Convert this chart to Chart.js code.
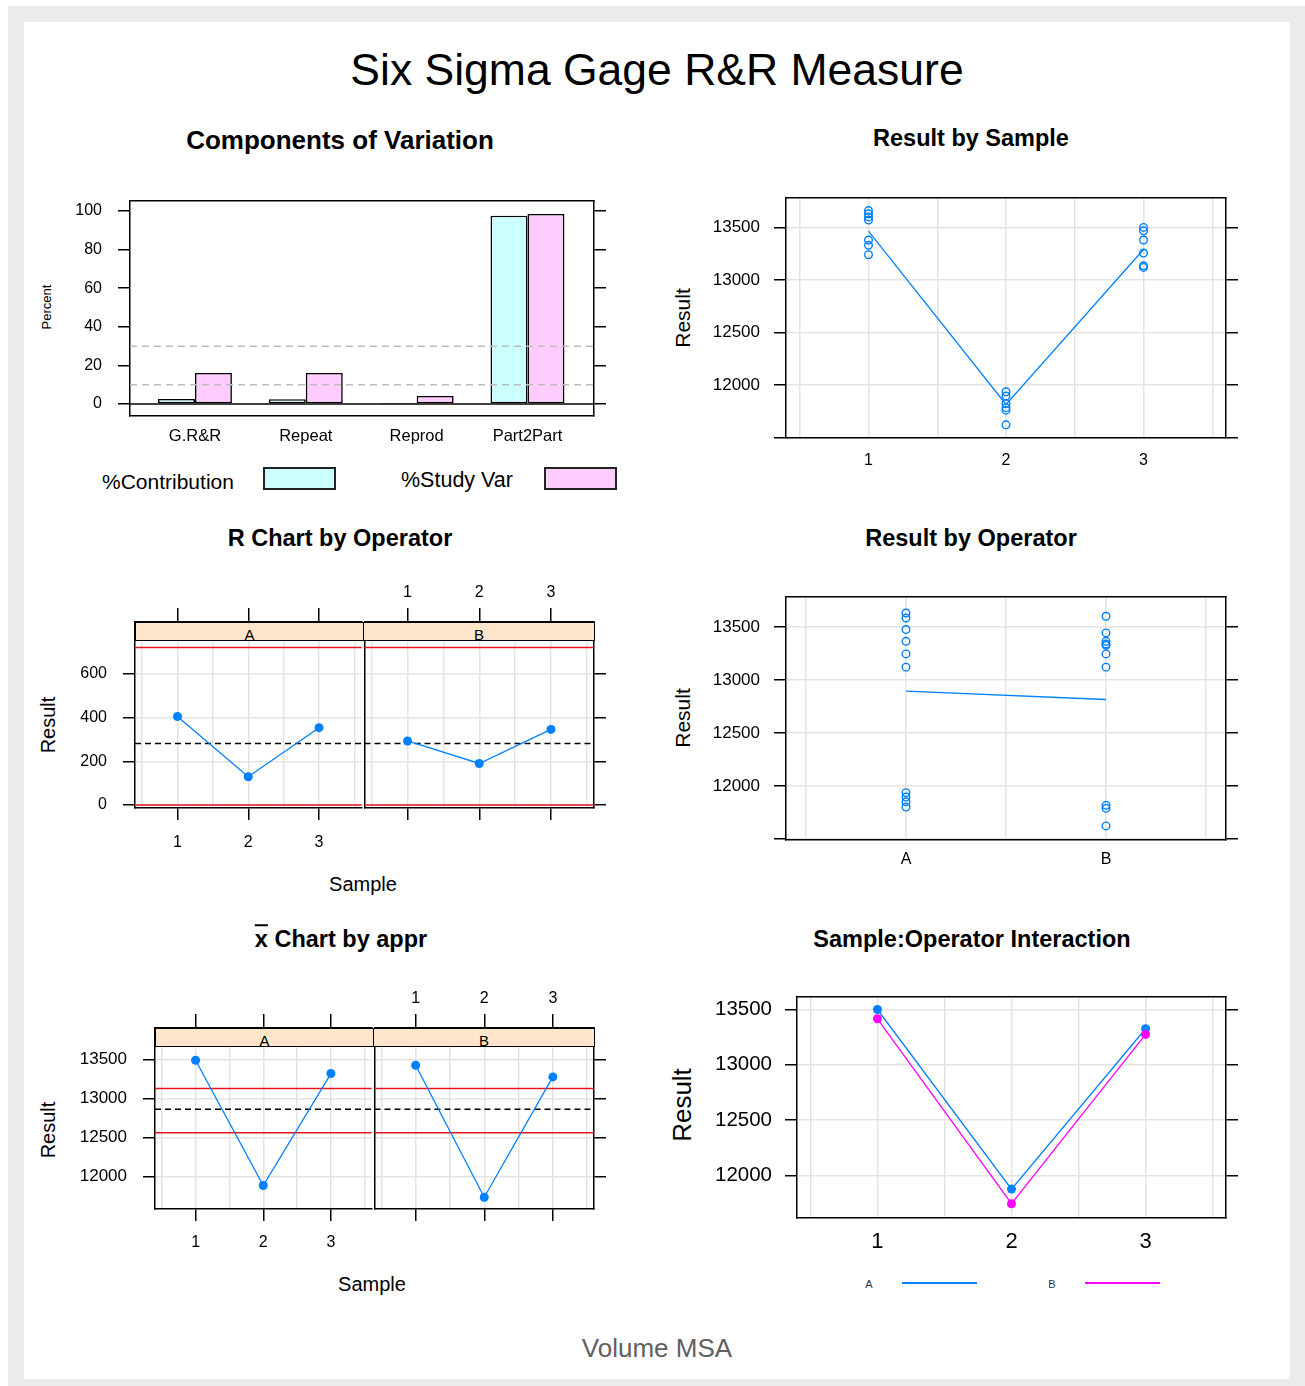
<!DOCTYPE html>
<html lang="en">
<head>
<meta charset="UTF-8">
<title>Six Sigma Gage R&amp;R Measure</title>
<script src="https://cdn.jsdelivr.net/npm/chart.js@4"></script>
<style>
    body { margin: 0; background: #fff; font-family: "Liberation Sans", Arial, sans-serif; }
    .page { position: relative; width: 1305px; height: 1386px; overflow: hidden; }
    .frame { position: absolute; left: 8px; top: 6px; width: 1297px; height: 1380px; background: #ebebeb; }
    .sheet { position: absolute; left: 24px; top: 22px; width: 1266px; height: 1357px; background: #fff; }
    canvas { position: absolute; }
    .t { position: absolute; transform: translate(-50%, -50%); white-space: nowrap; line-height: 1; color: #000; }
    .l { position: absolute; transform: translate(0, -50%); white-space: nowrap; line-height: 1; color: #000; }
    .v { transform: translate(-50%, -50%) rotate(-90deg); }
    .h { font-weight: bold; font-size: 23.5px; }
    .strip { position: absolute; box-sizing: border-box; height: 19px; background: #ffe5cc; border: 1.5px solid #000;
             overflow: hidden; text-align: center; font-size: 15px; line-height: 24px; }
    .key { position: absolute; box-sizing: border-box; width: 73px; height: 23px; border: 2px solid #222; }
    .lk { position: absolute; height: 2px; width: 75px; }
</style>
</head>
<body>
<div class="page">
    <div class="frame"></div>
    <div class="sheet"></div>

    <!-- titles -->
    <div class="t" style="left:657px; top:70px; font-size:44.5px;">Six Sigma Gage R&amp;R Measure</div>
    <div class="t h" style="left:340px; top:140px; font-size:26px;">Components of Variation</div>
    <div class="t h" style="left:971px; top:139px;">Result by Sample</div>
    <div class="t h" style="left:340px; top:539px;">R Chart by Operator</div>
    <div class="t h" style="left:971px; top:539px;">Result by Operator</div>
    <div class="t h" style="left:341px; top:940px;"><span style="text-decoration:overline">x</span> Chart by appr</div>
    <div class="t h" style="left:972px; top:940px;">Sample:Operator Interaction</div>
    <div class="t" style="left:657px; top:1348px; font-size:26px; color:#606060;">Volume MSA</div>

    <!-- axis titles -->
    <div class="t v" style="left:46px; top:307px; font-size:13px;">Percent</div>
    <div class="t v" style="left:682px; top:318px; font-size:21px;">Result</div>
    <div class="t v" style="left:48px; top:725px; font-size:20px;">Result</div>
    <div class="t" style="left:363px; top:884px; font-size:20px;">Sample</div>
    <div class="t v" style="left:682px; top:718px; font-size:21px;">Result</div>
    <div class="t v" style="left:48px; top:1130px; font-size:20px;">Result</div>
    <div class="t" style="left:372px; top:1284px; font-size:20px;">Sample</div>
    <div class="t v" style="left:682px; top:1105px; font-size:26px;">Result</div>

    <!-- charts -->
    <canvas id="cv" width="560" height="260" style="left:60px; top:190px;"></canvas>
    <canvas id="bySample" width="545" height="290" style="left:700px; top:185px;"></canvas>
    <canvas id="rA" width="306" height="290" style="left:60px; top:575px;"></canvas>
    <canvas id="rB" width="260" height="290" style="left:360px; top:575px;"></canvas>
    <canvas id="byOperator" width="545" height="295" style="left:700px; top:585px;"></canvas>
    <canvas id="xA" width="316" height="290" style="left:60px; top:980px;"></canvas>
    <canvas id="xB" width="250" height="290" style="left:370px; top:980px;"></canvas>
    <canvas id="inter" width="545" height="285" style="left:700px; top:985px;"></canvas>

    <!-- strips -->
    <div class="strip" style="left:135px; top:622px; width:229px;">A</div>
    <div class="strip" style="left:363px; top:622px; width:232px;">B</div>
    <div class="strip" style="left:155px; top:1028px; width:219px;">A</div>
    <div class="strip" style="left:373px; top:1028px; width:222px;">B</div>

    <!-- legends -->
    <div class="l" style="left:102px; top:481px; font-size:21px;">%Contribution</div>
    <div class="key" style="left:263px; top:467px; background:#ccffff;"></div>
    <div class="l" style="left:401px; top:481px; font-size:21.5px;">%Study Var</div>
    <div class="key" style="left:544px; top:467px; background:#ffccff;"></div>

    <div class="t" style="left:869px; top:1284px; font-size:11px; color:#333;">A</div>
    <div class="lk" style="left:902px; top:1282px; background:#0080ff;"></div>
    <div class="t" style="left:1052px; top:1284px; font-size:11px; color:#333;">B</div>
    <div class="lk" style="left:1085px; top:1282px; background:#ff00ff;"></div>
</div>

<script>
    // ---- data ----
    const components = ['G.R&R', 'Repeat', 'Reprod', 'Part2Part'];
    const pctContribution = [2.6, 2.5, 0.2, 97.6];
    const pctStudyVar = [16.1, 16.1, 4.2, 98.5];
    const percentTicks = [0, 20, 40, 60, 80, 100];
    const guideLines = [10, 30];

    const samples = ['1', '2', '3'];
    const operators = ['A', 'B'];
    const resultTicks = [11500, 12000, 12500, 13000, 13500];

    const sample1Results = [13660, 13630, 13600, 13570, 13380, 13330, 13240];
    const sample2Results = [11935, 11895, 11822, 11784, 11760, 11620];
    const sample3Results = [13500, 13468, 13380, 13256, 13135, 13119];
    const sampleMeans = [13465, 11815, 13290];

    const operatorAResults = [13632, 13585, 13476, 13365, 13246, 13121, 11937, 11896, 11852, 11802];
    const operatorBResults = [13601, 13444, 13365, 13340, 13328, 13246, 13121, 11818, 11790, 11624];
    const operatorMeans = [12895, 12816];

    const rangeTicks = [0, 200, 400, 600];
    const rangesA = [405, 129, 354];
    const rangesB = [293, 190, 346];
    const rangeLimits = [0, 721];
    const rangeCenter = 282;

    const meanTicks = [12000, 12500, 13000, 13500];
    const meansA = [13491, 11884, 13320];
    const meansB = [13427, 11734, 13277];
    const meanLimits = [12561, 13127];
    const meanCenter = 12861;

    const interactionA = [13500, 11877, 13326];
    const interactionB = [13416, 11745, 13275];

    // ---- shared look ----
    const BLUE = '#0080ff', MAGENTA = '#ff00ff', RED = '#e3141c', GRID = '#e4e4e4', CLEAR = 'rgba(0,0,0,0)';
    const halfSteps = [0.5, 1, 1.5, 2, 2.5, 3, 3.5];
    const isWhole = v => Number.isInteger(v);

    Chart.defaults.font.family = '"Liberation Sans", Arial, sans-serif';
    Chart.defaults.font.size = 16;
    Chart.defaults.color = '#000';
    Chart.defaults.animation = false;
    Chart.defaults.plugins.legend.display = false;
    Chart.defaults.plugins.tooltip.enabled = false;

    // horizontal reference lines (limits, centre lines, guides)
    function drawLines(chart, lines) {
        const { ctx, chartArea: a } = chart;
        const y = chart.scales.y;
        lines.forEach(l => {
            const py = y.getPixelForValue(l.value);
            ctx.save();
            ctx.strokeStyle = l.color;
            ctx.lineWidth = l.width || 1.5;
            ctx.setLineDash(l.dash || []);
            ctx.beginPath();
            ctx.moveTo(a.left, py);
            ctx.lineTo(a.right, py);
            ctx.stroke();
            ctx.restore();
        });
    }
    Chart.register({
        id: 'refLines',
        beforeDatasetsDraw(chart, args, opts) { drawLines(chart, opts.back || []); },
        afterDatasetsDraw(chart, args, opts) { drawLines(chart, opts.front || []); }
    });

    // linear axis with a fixed thickness so the plot box lands where the picture has it
    function axis(pos, min, max, size, o = {}) {
        const ticks = o.ticks || [];
        return {
            type: 'linear', position: pos, min: min, max: max, offset: false,
            afterFit: s => {
                if (s.isHorizontal()) s.height = size; else s.width = size;
                // labels overhang is already inside the fixed sizes
                s.paddingTop = s.paddingBottom = s.paddingLeft = s.paddingRight = 0;
            },
            afterBuildTicks: s => { s.ticks = ticks.map(v => ({ value: v })); },
            ticks: {
                display: !!o.labels, autoSkip: false, maxRotation: 0, minRotation: 0,
                padding: o.pad || 0,
                font: { size: o.font || 16 },
                callback: v => o.labels ? o.labels(v) : ''
            },
            grid: {
                display: true, offset: false,
                drawOnChartArea: !!o.grid,
                color: c => (c.tick && o.gridAt && !o.gridAt(c.tick.value)) ? CLEAR : GRID,
                lineWidth: 1.5,
                drawTicks: !!o.tick,
                tickLength: o.tick || 0,
                tickColor: c => (c.tick && o.tickAt && !o.tickAt(c.tick.value)) ? CLEAR : '#000',
                tickWidth: 1.5
            },
            border: { display: o.noBorder ? false : true, color: '#000', width: 1.5 }
        };
    }

    const base = { responsive: false, events: [], layout: { padding: 0 } };
    const openDot = { pointRadius: 3.8, pointBackgroundColor: CLEAR, pointBorderColor: BLUE, pointBorderWidth: 1.4 };
    const toPoints = (vals, x) => vals.map(v => ({ x: x, y: v }));
    const toSeries = vals => vals.map((v, i) => ({ x: i + 1, y: v }));
    const lineSet = (vals, color, dots) => ({
        data: toSeries(vals), showLine: true, borderColor: color, borderWidth: 1.3,
        pointRadius: dots ? 4.5 : 0, pointBackgroundColor: color, pointBorderColor: color, pointBorderWidth: 0
    });

    // ---- Components of Variation ----
    new Chart(document.getElementById('cv'), {
        type: 'bar',
        data: {
            datasets: [
                { data: toSeries(pctContribution), backgroundColor: '#ccffff', borderColor: '#000', borderWidth: 1.6,
                  borderSkipped: false, categoryPercentage: 0.667, barPercentage: 1 },
                { data: toSeries(pctStudyVar), backgroundColor: '#ffccff', borderColor: '#000', borderWidth: 1.6,
                  borderSkipped: false, categoryPercentage: 0.667, barPercentage: 1 }
            ]
        },
        options: {
            ...base,
            scales: {
                x: axis('bottom', 0.414, 4.6, 34, { ticks: [1, 2, 3, 4], labels: v => components[v - 1], pad: 11, font: 16.5 }),
                x2: axis('top', 0.414, 4.6, 11),
                y: axis('left', -6.2, 105.2, 70, { ticks: percentTicks, labels: v => String(v), tick: 12, pad: 16, font: 16 }),
                y2: axis('right', -6.2, 105.2, 26, { ticks: percentTicks, tick: 12 })
            },
            plugins: {
                refLines: {
                    back: [{ value: 0, color: '#000' }],
                    front: guideLines.map(v => ({ value: v, color: '#bdbdbd', dash: [7, 5] }))
                }
            }
        }
    });

    // ---- Result by Sample ----
    new Chart(document.getElementById('bySample'), {
        type: 'scatter',
        data: {
            datasets: [
                { data: [...toPoints(sample1Results, 1), ...toPoints(sample2Results, 2), ...toPoints(sample3Results, 3)], ...openDot },
                lineSet(sampleMeans, BLUE, false)
            ]
        },
        options: {
            ...base,
            scales: {
                x: axis('bottom', 0.4, 3.6, 37, { ticks: halfSteps, labels: v => isWhole(v) ? samples[v - 1] : '', pad: 13, grid: true }),
                x2: axis('top', 0.4, 3.6, 13),
                y: axis('left', 11495, 13780, 86, { ticks: resultTicks, labels: v => v === 11500 ? '' : String(v), tick: 12, pad: 14, font: 17, grid: true }),
                y2: axis('right', 11495, 13780, 19, { ticks: resultTicks, tick: 12 })
            }
        }
    });

    // ---- Result by Operator ----
    new Chart(document.getElementById('byOperator'), {
        type: 'scatter',
        data: {
            datasets: [
                { data: [...toPoints(operatorAResults, 1), ...toPoints(operatorBResults, 2)], ...openDot },
                lineSet(operatorMeans, BLUE, false)
            ]
        },
        options: {
            ...base,
            scales: {
                x: axis('bottom', 0.4, 2.6, 40, { ticks: [0.5, 1, 1.5, 2, 2.5], labels: v => isWhole(v) ? operators[v - 1] : '', pad: 10, grid: true }),
                x2: axis('top', 0.4, 2.6, 12),
                y: axis('left', 11491, 13783, 86, { ticks: resultTicks, labels: v => v === 11500 ? '' : String(v), tick: 12, pad: 14, font: 17, grid: true }),
                y2: axis('right', 11491, 13783, 19, { ticks: resultTicks, tick: 12 })
            }
        }
    });

    // ---- faceted control charts (A left with y labels, B right) ----
    function facet(id, vals, yMin, yMax, yTicks, limits, center, left, geo) {
        const lines = [
            ...limits.map(v => ({ value: v, color: RED, width: 1.5 })),
            { value: center, color: '#000', width: 1.5, dash: [6, 4] }
        ];
        const sampleLabel = v => isWhole(v) ? samples[v - 1] : '';
        new Chart(document.getElementById(id), {
            type: 'scatter',
            data: { datasets: [lineSet(vals, BLUE, true)] },
            options: {
                ...base,
                scales: {
                    x: axis('bottom', 0.4, 3.6, geo.bottom, left
                        ? { ticks: halfSteps, labels: sampleLabel, pad: geo.pad, tick: 12, tickAt: isWhole, grid: true }
                        : { ticks: halfSteps, tick: 12, tickAt: isWhole, grid: true }),
                    x2: axis('top', 0.4, 3.6, geo.top, left
                        ? { ticks: [1, 2, 3], tick: 14 }
                        : { ticks: [1, 2, 3], labels: sampleLabel, tick: 14, pad: 6 }),
                    y: axis('left', yMin, yMax, left ? geo.left : 3, left
                        ? { ticks: yTicks, labels: v => String(v), tick: 12, pad: 16, font: geo.font, grid: true }
                        : { ticks: yTicks, grid: true }),
                    // the shared divider is drawn by panel B's left edge
                    y2: axis('right', yMin, yMax, left ? 3 : 26, left ? { noBorder: true } : { ticks: yTicks, tick: 12 })
                },
                plugins: { refLines: { back: lines } }
            }
        });
    }

    facet('rA', rangesA, -14, 838, rangeTicks, rangeLimits, rangeCenter, true, { left: 75, top: 47, bottom: 57, pad: 13, font: 16 });
    facet('rB', rangesB, -14, 838, rangeTicks, rangeLimits, rangeCenter, false, { top: 47, bottom: 57 });
    facet('xA', meansA, 11583, 13904, meanTicks, meanLimits, meanCenter, true, { left: 95, top: 48, bottom: 61, pad: 12, font: 17 });
    facet('xB', meansB, 11583, 13904, meanTicks, meanLimits, meanCenter, false, { top: 48, bottom: 61 });

    // ---- Sample:Operator Interaction ----
    new Chart(document.getElementById('inter'), {
        type: 'scatter',
        data: {
            datasets: [
                lineSet(interactionB, MAGENTA, true),
                lineSet(interactionA, BLUE, true)
            ]
        },
        options: {
            ...base,
            scales: {
                x: axis('bottom', 0.4, 3.6, 52, { ticks: halfSteps, labels: v => isWhole(v) ? samples[v - 1] : '', pad: 11, font: 22, grid: true }),
                x2: axis('top', 0.4, 3.6, 12),
                y: axis('left', 11616, 13613, 97, { ticks: meanTicks, labels: v => String(v), tick: 12, pad: 13, font: 20.5, grid: true }),
                y2: axis('right', 11616, 13613, 19, { ticks: meanTicks, tick: 12 })
            }
        }
    });
</script>
</body>
</html>
